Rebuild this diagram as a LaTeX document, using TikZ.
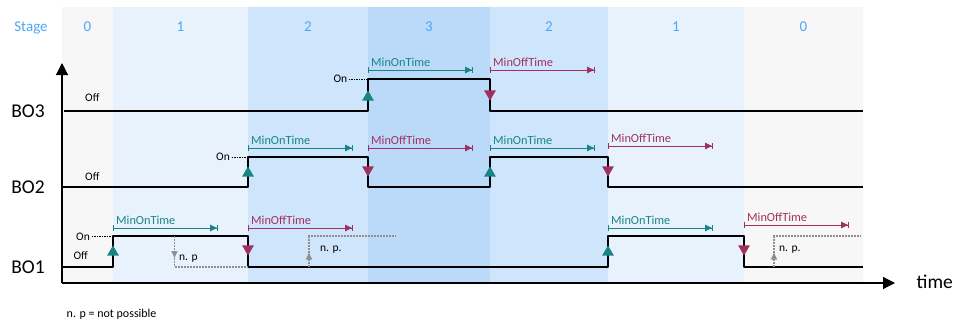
\documentclass[tikz,border=0pt]{standalone}
\usepackage{fontspec}
\setmainfont{Carlito}
\usetikzlibrary{arrows.meta,shapes.geometric}
\definecolor{stzero}{HTML}{F7F7F7}
\definecolor{stone}{HTML}{E8F2FD}
\definecolor{sttwo}{HTML}{CFE5FB}
\definecolor{stthree}{HTML}{BBDAF9}
\definecolor{stagetxt}{HTML}{4DA6F7}
\definecolor{onclr}{HTML}{178585}
\definecolor{offclr}{HTML}{A0305F}
\definecolor{npgray}{HTML}{8F8F8F}
\newcommand{\fsz}[1]{\fontsize{#1}{#1}\selectfont}
\begin{document}
\begin{tikzpicture}[x=1pt,y=-1pt,
  sig/.style={line width=2.8pt,line join=round},
  axis/.style={line width=1.2pt,-{Triangle[length=12pt,width=12pt]}},
  lab/.style={font=\fsz{11.5},inner sep=0pt,anchor=base west},
  bo/.style={font=\fsz{19.5},inner sep=0pt,anchor=base},
  stg/.style={font=\fsz{15},text=stagetxt,inner sep=0pt,anchor=base},
  lead/.style={line width=0.9pt,dash pattern=on 1.5pt off 1pt},
  onbar/.style={draw=onclr,line width=0.9pt,{Bar[width=6pt]}-{Triangle[length=7pt,width=6.5pt]Bar[width=6pt]}},
  offbar/.style={onbar,draw=offclr},
  onlab/.style={font=\fsz{12.3},text=onclr,inner sep=0pt,anchor=base west},
  offlab/.style={onlab,text=offclr},
  rise/.style={regular polygon,regular polygon sides=3,fill=onclr,minimum size=13.5pt,inner sep=0pt,anchor=corner 1},
  fall/.style={rise,fill=offclr,shape border rotate=180},
  np/.style={draw=npgray,line width=1.3pt,dash pattern=on 2pt off 1pt},
  nptip/.style={np,-{Triangle[length=7pt,width=6pt]}}]
  \useasboundingbox (0,0) rectangle (956,327);
  % stage bands
  \foreach \name/\xa/\xb/\c/\s in {sa/62/113/stzero/0,sb/113/248/stone/1,sc/248/368/sttwo/2,
      sd/368/490/stthree/3,se/490/608/sttwo/2,sf/608/744/stone/1,sg/744/863/stzero/0} {
    \fill[\c] (\xa,7) rectangle (\xb,283);
    \node[stg] (\name) at ({(\xa+\xb)/2},31) {\s};
  }
  \node[stg] (stage) at (31,31) {Stage};
  % axes
  \coordinate (o) at (62,283);
  \coordinate (ytop) at (62,63);
  \coordinate (xend) at (895,283);
  \draw[axis] (o) -- (ytop);
  \draw[axis] (o) -- (xend);
  \node[bo,anchor=base west] (time) at (916.5,288.3) {time};
  % signals
  \draw[sig] (64,111) -- (368,111) -- (368,79) -- (490,79) -- (490,111) -- (863,111);
  \draw[sig] (62,187) -- (248,187) -- (248,157) -- (368,157) -- (368,187) -- (490,187)
    -- (490,157) -- (608,157) -- (608,187) -- (863,187);
  \draw[sig] (62,267) -- (113,267) -- (113,236) -- (248,236) -- (248,267) -- (608,267)
    -- (608,236) -- (744,236) -- (744,267) -- (863,267);
  \node[bo] (bo3) at (28,117.5) {BO3};
  \node[bo] (bo2) at (28,193.3) {BO2};
  \node[bo] (bo1) at (28,273.3) {BO1};
  % on / off levels
  \node[lab] (off3) at (85,101) {Off};
  \node[lab] (off2) at (85,180) {Off};
  \node[lab] (off1) at (73.3,259.3) {Off};
  \node[lab] (on3) at (333.3,82.3) {On};
  \node[lab] (on2) at (216,160.7) {On};
  \node[lab] (on1) at (76,240) {On};
  \coordinate (h3) at (368,79);
  \coordinate (h2) at (248,157);
  \coordinate (h1) at (113,236);
  \draw[lead] (on3.east |- h3) ++(1.5,0) -- (h3);
  \draw[lead] (on2.east |- h2) ++(1.5,0) -- (h2);
  \draw[lead] (on1.east |- h1) ++(1.5,0) -- (h1);
  % edges
  \foreach \name/\xx/\yy in {r3/368/90,r2a/248/166,r2b/490/166,r1a/113/245,r1b/608/245}
    \node[rise] (\name) at (\xx,\yy) {};
  \foreach \name/\xx/\yy in {f3/490/101,f2a/368/177,f2b/608/177,f1a/248/256,f1b/744/256}
    \node[fall] (\name) at (\xx,\yy) {};
  % minimum times
  \foreach \name/\xx/\yy/\k/\t in {d3a/368/70/on/MinOnTime,d3b/490/70/off/MinOffTime,
      d2a/248/148/on/MinOnTime,d2b/368/148/off/MinOffTime,d2c/490/148/on/MinOnTime,
      d2d/608/146/off/MinOffTime,d1a/113/228/on/MinOnTime,d1b/248/228/off/MinOffTime,
      d1c/608/228/on/MinOnTime,d1d/744/225/off/MinOffTime} {
    \coordinate (\name s) at (\xx,\yy);
    \coordinate (\name e) at (\xx+105,\yy);
    \draw[\k bar] (\name s) -- (\name e);
    \node[\k lab] (\name) at (\xx+3,\yy-4) {\t};
  }
  % not possible
  \coordinate (npa) at (174.5,236);
  \coordinate (npat) at (174.5,258);
  \coordinate (npae) at (248,267);
  \draw[nptip] (npa) -- (npat);
  \draw[np] (npat) |- (npae);
  \node[lab] (npal) at (179,260.5) {n. p};
  \foreach \name/\xx/\xe in {npb/309/396,npc/774/861} {
    \coordinate (\name) at (\xx,267);
    \coordinate (\name t) at (\xx,252.5);
    \coordinate (\name e) at (\xe,236);
    \draw[nptip] (\name) -- (\name t);
    \draw[np] (\name t) |- (\name e);
  }
  \node[lab] (npbl) at (320,251) {n. p.};
  \node[lab] (npcl) at (779,251) {n. p.};
  \node[lab,font=\fsz{12}] (note) at (66.5,317.5) {n. p = not possible};
\end{tikzpicture}
\end{document}
